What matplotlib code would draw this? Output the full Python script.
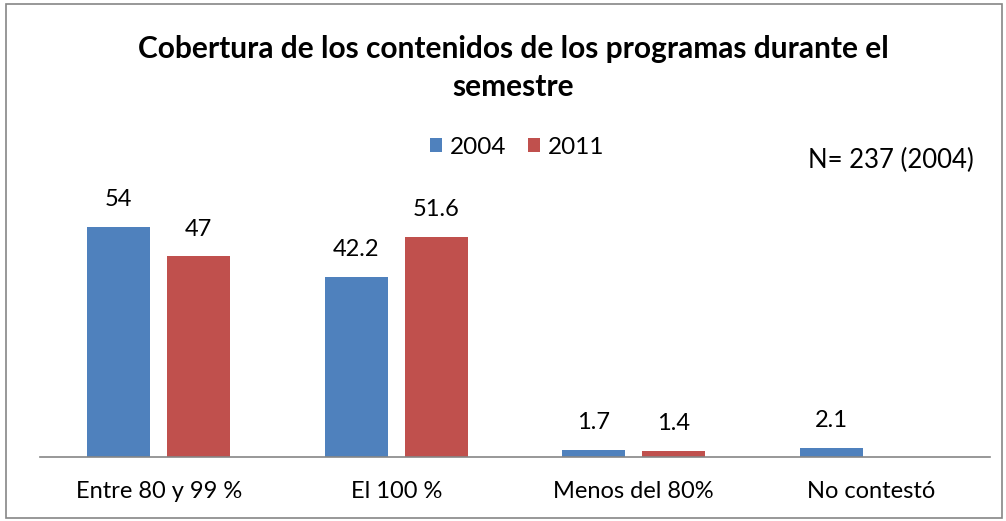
import matplotlib.pyplot as plt
import numpy as np
from matplotlib.patches import Rectangle

plt.rcParams['font.family'] = ['Lato', 'DejaVu Sans']

categories = ["Entre 80 y 99 %", "El 100 %", "Menos del 80%", "No contestó"]
values_2004 = [54, 42.2, 1.7, 2.1]
values_2011 = [47, 51.6, 1.4, None]
series_names = ["2004", "2011"]

BLUE = '#4F81BD'
RED = '#C0504D'

fig = plt.figure(figsize=(10.06, 5.21), dpi=100)
W, H = 1006, 521

# plot area in pixel terms (from reference)
left, right, base, top = 40, 990, 457, 201
ax = fig.add_axes([left / W, (H - base) / H, (right - left) / W, (base - top) / H])

x = np.arange(len(categories))
width = 0.265
offset = 0.168

for vals, dx, color, name in [(values_2004, -offset, BLUE, series_names[0]),
                              (values_2011, offset, RED, series_names[1])]:
    xs = [xi + dx for xi, v in zip(x, vals) if v is not None]
    vs = [v for v in vals if v is not None]
    bars = ax.bar(xs, vs, width=width, color=color, label=name)
    for b, v in zip(bars, vs):
        ax.annotate(f"{v:g}", (b.get_x() + b.get_width() / 2, v),
                    xytext=(0, 19.5), textcoords='offset points',
                    ha='center', va='center', fontsize=17)

ax.set_xlim(-0.5, len(categories) - 0.5)
ax.set_ylim(0, 60)
ax.set_xticks(x)
ax.set_xticklabels(categories, fontsize=17)
ax.tick_params(axis='x', length=0, pad=17.5)
ax.set_yticks([])
for s in ['top', 'right', 'left']:
    ax.spines[s].set_visible(False)
ax.spines['bottom'].set_color('#868686')
ax.spines['bottom'].set_linewidth(1.2)

fig.text(513 / W, 1 - 68 / H, "Cobertura de los contenidos de los programas durante el\nsemestre",
         ha='center', va='center', fontsize=21.5, fontweight='bold', linespacing=1.4)

leg = fig.legend(loc='center', bbox_to_anchor=(517 / W, 1 - 147 / H), ncol=2, frameon=False,
                 fontsize=17.5, handlelength=0.5, handleheight=0.5, handletextpad=0.3,
                 columnspacing=0.9)

fig.text(891 / W, 1 - 160 / H, "N= 237 (2004)", ha='center', va='center', fontsize=18.5)

fig.patches.append(Rectangle((6 / W, 3 / H), 996 / W, 514 / H, transform=fig.transFigure,
                             fill=False, edgecolor='#868686', linewidth=1.2))

fig.savefig('out.png', dpi=100)
